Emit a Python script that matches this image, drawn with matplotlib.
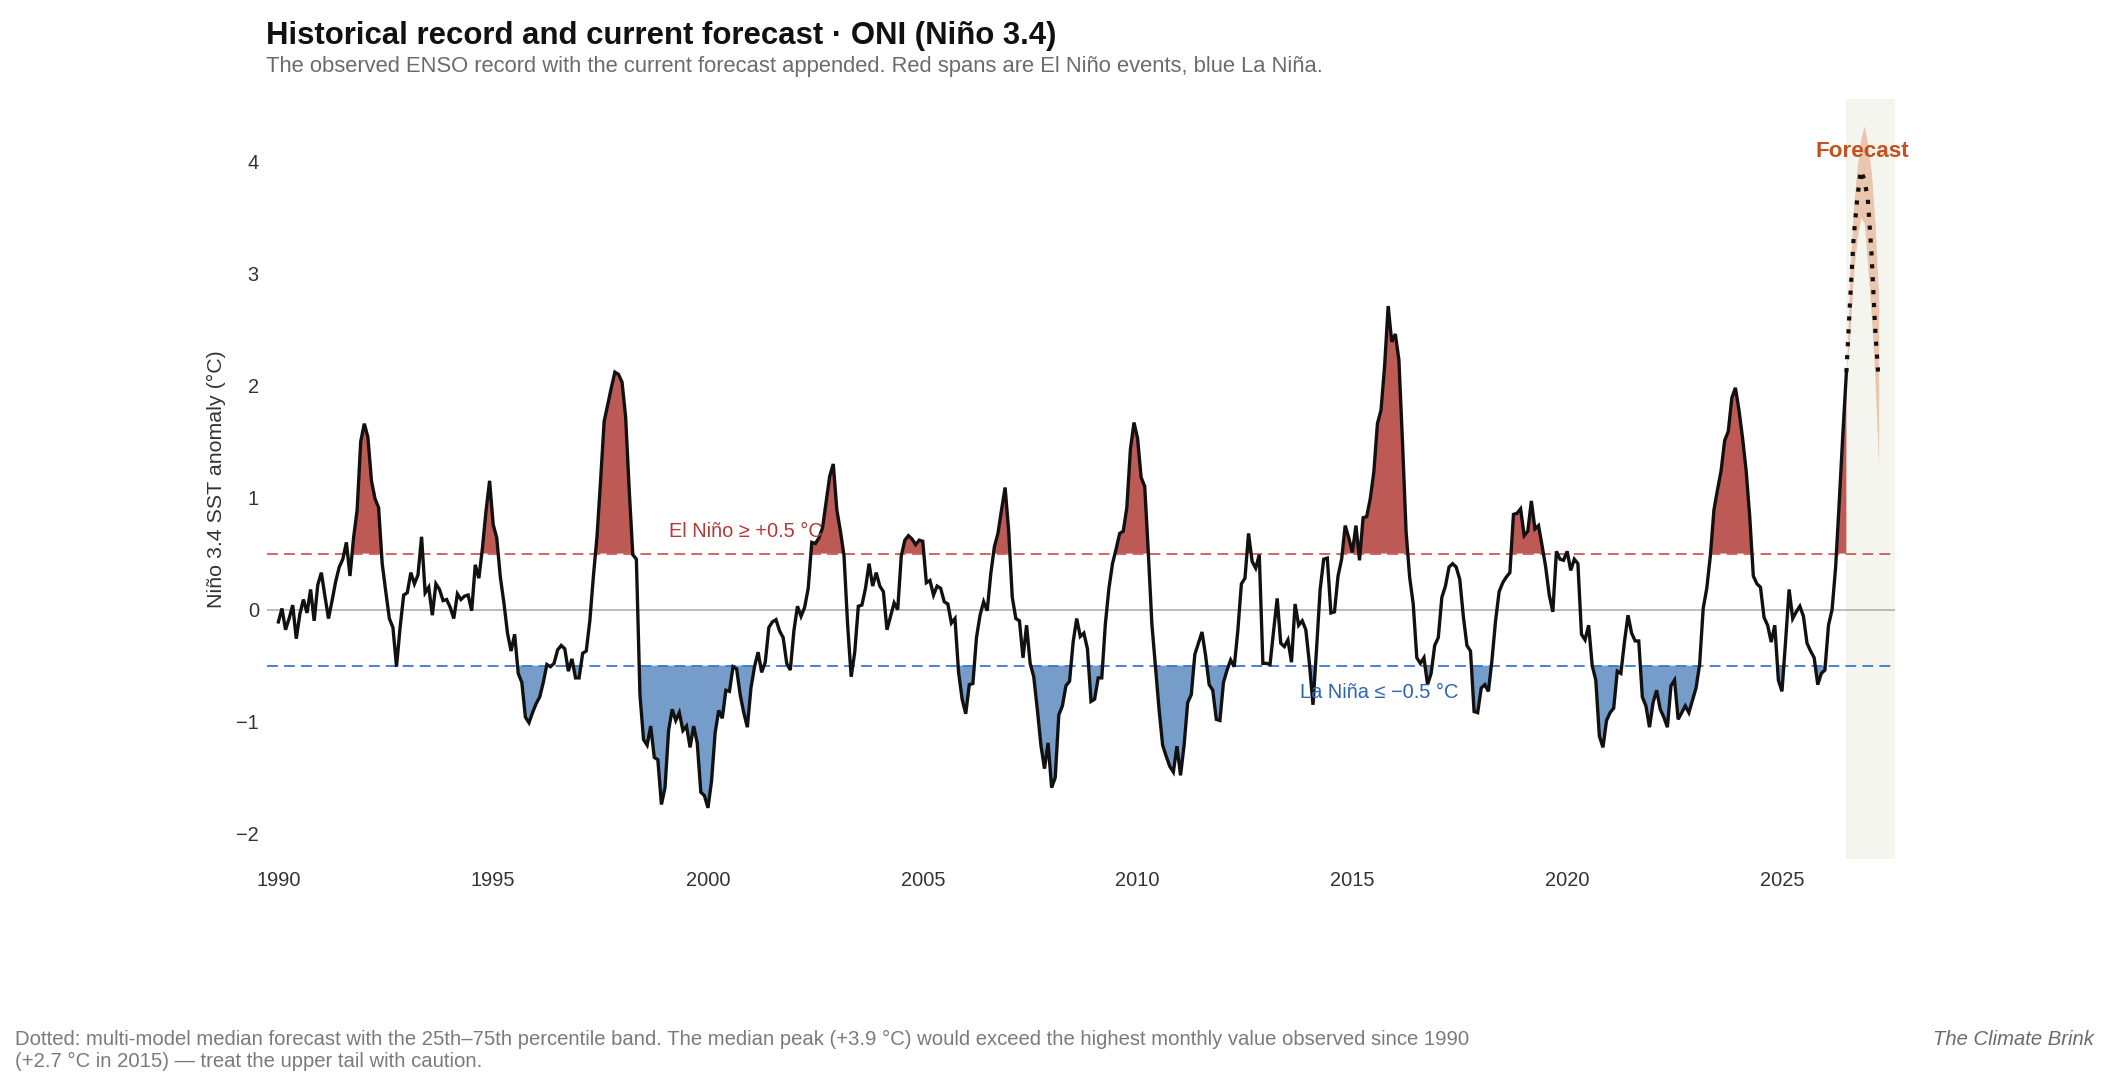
import numpy as np
import matplotlib
matplotlib.use("Agg")
import matplotlib.pyplot as plt

plt.rcParams['font.family'] = ['Liberation Sans', 'DejaVu Sans']

# ---------------- data ----------------
start_year = 1990
# monthly Niño 3.4 anomaly (°C), Jan 1990 .. Jul 2026
oni_1990s = [
    -0.11, 0.01, -0.18, -0.08, 0.04, -0.26, -0.04, 0.09, -0.03, 0.18, -0.10, 0.22,   # 1990
    0.33, 0.12, -0.08, 0.08, 0.25, 0.38, 0.45, 0.60, 0.30, 0.64, 0.89, 1.50,         # 1991
    1.66, 1.54, 1.15, 0.99, 0.91, 0.41, 0.16, -0.08, -0.16, -0.51, -0.16, 0.13,      # 1992
    0.15, 0.33, 0.23, 0.31, 0.65, 0.15, 0.20, -0.05, 0.23, 0.18, 0.08, 0.09,         # 1993
    0.02, -0.08, 0.14, 0.09, 0.12, 0.13, -0.01, 0.40, 0.28, 0.55, 0.88, 1.15,        # 1994
    0.76, 0.64, 0.29, 0.06, -0.21, -0.37, -0.22, -0.57, -0.65, -0.96, -1.01, -0.92,  # 1995
    -0.84, -0.78, -0.65, -0.49, -0.51, -0.48, -0.36, -0.32, -0.35, -0.55, -0.44, -0.61,  # 1996
    -0.61, -0.39, -0.37, -0.10, 0.30, 0.65, 1.15, 1.68, 1.83, 1.98, 2.12, 2.10,      # 1997
    2.03, 1.72, 1.07, 0.49, 0.45, -0.76, -1.16, -1.21, -1.04, -1.32, -1.34, -1.74,   # 1998
    -1.59, -1.08, -0.89, -0.99, -0.92, -1.08, -1.04, -1.23, -1.04, -1.19, -1.63, -1.66,  # 1999
]
oni_2000s = [
    -1.77, -1.53, -1.10, -0.90, -0.97, -0.72, -0.73, -0.51, -0.53, -0.76, -0.92, -1.05,  # 2000
    -0.70, -0.51, -0.38, -0.56, -0.47, -0.16, -0.11, -0.09, -0.19, -0.25, -0.48, -0.54,  # 2001
    -0.19, 0.03, -0.06, 0.02, 0.19, 0.60, 0.59, 0.64, 0.73, 0.96, 1.19, 1.30,        # 2002
    0.89, 0.70, 0.48, -0.13, -0.60, -0.38, 0.03, 0.04, 0.19, 0.41, 0.21, 0.33,       # 2003
    0.21, 0.16, -0.18, -0.06, 0.06, 0.00, 0.48, 0.62, 0.66, 0.63, 0.58, 0.62,        # 2004
    0.61, 0.24, 0.26, 0.13, 0.21, 0.19, 0.07, 0.05, -0.12, -0.08, -0.56, -0.80,      # 2005
    -0.93, -0.67, -0.66, -0.25, -0.05, 0.07, -0.01, 0.32, 0.56, 0.68, 0.89, 1.09,    # 2006
    0.70, 0.11, -0.08, -0.10, -0.43, -0.14, -0.48, -0.60, -0.89, -1.21, -1.42, -1.19,  # 2007
    -1.59, -1.50, -0.94, -0.86, -0.68, -0.64, -0.29, -0.08, -0.24, -0.21, -0.35, -0.82,  # 2008
    -0.80, -0.61, -0.61, -0.13, 0.19, 0.41, 0.54, 0.68, 0.70, 0.91, 1.43, 1.67,      # 2009
]
oni_2010s = [
    1.53, 1.18, 1.10, 0.51, -0.13, -0.51, -0.89, -1.21, -1.31, -1.40, -1.45, -1.22,  # 2010
    -1.48, -1.21, -0.83, -0.76, -0.40, -0.30, -0.20, -0.41, -0.67, -0.72, -0.98, -0.99,  # 2011
    -0.65, -0.54, -0.45, -0.51, -0.19, 0.23, 0.28, 0.68, 0.43, 0.37, 0.49, -0.48,    # 2012
    -0.48, -0.49, -0.19, 0.10, -0.30, -0.33, -0.27, -0.47, 0.05, -0.14, -0.10, -0.18,  # 2013
    -0.48, -0.85, -0.35, 0.18, 0.45, 0.46, -0.03, -0.02, 0.30, 0.45, 0.75, 0.64,     # 2014
    0.51, 0.75, 0.44, 0.82, 0.83, 0.99, 1.23, 1.66, 1.78, 2.17, 2.71, 2.39,          # 2015
    2.46, 2.23, 1.50, 0.70, 0.29, 0.05, -0.43, -0.48, -0.43, -0.67, -0.57, -0.32,    # 2016
    -0.25, 0.11, 0.21, 0.38, 0.41, 0.38, 0.27, -0.06, -0.32, -0.37, -0.91, -0.92,    # 2017
    -0.70, -0.67, -0.73, -0.45, -0.10, 0.16, 0.24, 0.29, 0.33, 0.85, 0.86, 0.90,     # 2018
    0.66, 0.70, 0.97, 0.72, 0.75, 0.57, 0.38, 0.13, -0.02, 0.52, 0.45, 0.44,         # 2019
]
oni_2020s = [
    0.52, 0.35, 0.45, 0.41, -0.22, -0.27, -0.14, -0.50, -0.63, -1.13, -1.23, -0.99,  # 2020
    -0.92, -0.88, -0.55, -0.57, -0.29, -0.05, -0.21, -0.28, -0.28, -0.78, -0.86, -1.05,  # 2021
    -0.83, -0.72, -0.89, -0.96, -1.05, -0.68, -0.63, -0.98, -0.92, -0.86, -0.92, -0.81,  # 2022
    -0.70, -0.49, 0.01, 0.19, 0.48, 0.89, 1.07, 1.24, 1.51, 1.59, 1.89, 1.98,        # 2023
    1.78, 1.53, 1.24, 0.83, 0.30, 0.23, 0.20, -0.07, -0.14, -0.29, -0.14, -0.63,     # 2024
    -0.73, -0.29, 0.18, -0.08, -0.02, 0.03, -0.06, -0.30, -0.37, -0.43, -0.67, -0.57,  # 2025
    -0.54, -0.14, 0.00, 0.38, 0.96, 1.56, 2.12,                                      # 2026 (Jan-Jul)
]

# forecast, Jul 2026 .. Apr 2027 (month offsets from Jul 2026)
forecast_month_offset = [0, 1, 2, 3, 4, 5, 6, 7, 8, 9]
forecast_median = [2.12, 2.74, 3.31, 3.66, 3.92, 3.84, 3.66, 3.19, 2.53, 2.05]
forecast_p25 = [2.12, 2.45, 3.00, 3.30, 3.50, 3.45, 3.05, 2.60, 2.05, 1.28]
forecast_p75 = [2.12, 3.05, 3.60, 3.95, 4.20, 4.32, 4.15, 3.90, 3.45, 2.80]

el_nino_threshold = 0.5
la_nina_threshold = -0.5
year_ticks = [1990, 1995, 2000, 2005, 2010, 2015, 2020, 2025]
value_ticks = [-2, -1, 0, 1, 2, 3, 4]

# ---------------- derived ----------------
obs = np.array(oni_1990s + oni_2000s + oni_2010s + oni_2020s)
t_obs = start_year + np.arange(len(obs)) / 12.0
t_fc = t_obs[-1] + np.array(forecast_month_offset) / 12.0
f_med = np.array(forecast_median)
f_lo = np.array(forecast_p25)
f_hi = np.array(forecast_p75)

# ---------------- figure ----------------
W, H = 2109, 1087
fig = plt.figure(figsize=(W / 100, H / 100), dpi=100)
fig.patch.set_facecolor('white')
ax = fig.add_axes([0.1267, 0.2094, 0.7718, 0.6997])

x0, x1 = 1989.74, 2027.63
ax.set_xlim(x0, x1)
ax.set_ylim(-2.23, 4.56)

# forecast background span
ax.axvspan(t_obs[-1], x1, color='#F5F5F0', lw=0, zorder=0)

RED_FILL = '#BE5A55'
BLUE_FILL = '#769CCA'
ax.fill_between(t_obs, obs, el_nino_threshold, where=obs >= el_nino_threshold,
                interpolate=True, color=RED_FILL, lw=0, zorder=1)
ax.fill_between(t_obs, obs, la_nina_threshold, where=obs <= la_nina_threshold,
                interpolate=True, color=BLUE_FILL, lw=0, zorder=1)

ax.axhline(0, color='#B4B0A8', lw=1.2, zorder=2)
ax.axhline(el_nino_threshold, color='#D05A55', lw=1.3, ls=(0, (6.0, 3.4)), zorder=2)
ax.axhline(la_nina_threshold, color='#3D78C9', lw=1.3, ls=(0, (6.0, 3.4)), zorder=2)

# forecast band and median
ax.fill_between(t_fc, f_lo, f_hi, color='#EAC6AE', lw=0, zorder=2)
ax.plot(t_fc, f_med, color='#111111', lw=3.0, ls=(0, (1.0, 2.1)),
        dash_capstyle='butt', zorder=4)

ax.plot(t_obs, obs, color='#111111', lw=2.4, zorder=5, solid_joinstyle='miter')

# annotations
ax.text(1999.1, 0.65, 'El Niño ≥ +0.5 °C', color='#B23A34', fontsize=14.4,
        ha='left', va='baseline', zorder=6)
ax.text(2013.78, -0.79, 'La Niña ≤ −0.5 °C', color='#2D64B0', fontsize=14.4,
        ha='left', va='baseline', zorder=6)
ax.text(2026.87, 4.04, 'Forecast', color='#C4521C', fontsize=16.2, fontweight='bold',
        ha='center', va='baseline', zorder=6)

# axes styling
for s in ax.spines.values():
    s.set_visible(False)
ax.set_xticks(year_ticks)
ax.set_xticklabels([str(y) for y in year_ticks])
ax.set_yticks(value_ticks)
ax.tick_params(axis='both', length=0, labelsize=14.4, colors='#333333')
ax.tick_params(axis='x', pad=8.6)
ax.tick_params(axis='y', pad=6.0)
ax.set_ylabel('Niño 3.4 SST anomaly (°C)', fontsize=15.4, color='#333333')
ax.yaxis.set_label_coords(-0.0255, 0.5)

# titles
fig.text(0.1262, 0.9595, 'Historical record and current forecast · ONI (Niño 3.4)',
         fontsize=22.4, fontweight='bold', color='#111111', ha='left', va='baseline')
fig.text(0.1262, 0.9335, 'The observed ENSO record with the current forecast appended. '
         'Red spans are El Niño events, blue La Niña.',
         fontsize=15.8, color='#6B6B6B', ha='left', va='baseline')

# footer
fig.text(0.007, 0.039, 'Dotted: multi-model median forecast with the 25th–75th percentile band. '
         'The median peak (+3.9 °C) would exceed the highest monthly value observed since 1990',
         fontsize=14.6, color='#7A7A7A', ha='left', va='baseline')
fig.text(0.007, 0.018, '(+2.7 °C in 2015) — treat the upper tail with caution.',
         fontsize=14.6, color='#7A7A7A', ha='left', va='baseline')
fig.text(0.993, 0.039, 'The Climate Brink', fontsize=14.6, color='#6B6B6B',
         style='italic', ha='right', va='baseline')

fig.savefig('out.png', dpi=100, facecolor='white')
